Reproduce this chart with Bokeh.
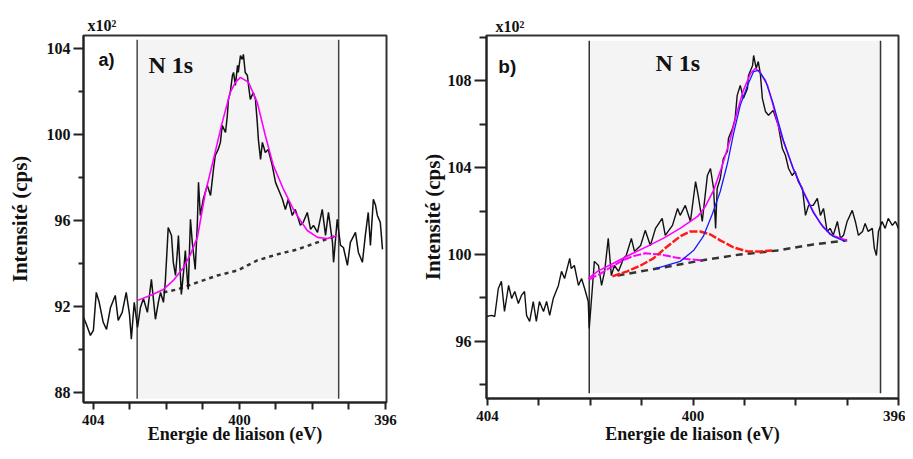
from bokeh.plotting import figure
from bokeh.models import FixedTicker, Range1d, Label
from bokeh.layouts import row
from bokeh.embed import file_html
from bokeh.resources import INLINE

# ---------------- Panel a) data ----------------
a_x = [404.27, 404.19, 404.08, 404.00, 403.92, 403.84, 403.73, 403.64, 403.53, 403.40,
       403.32, 403.21, 403.10, 403.01, 402.96, 402.88, 402.79, 402.71, 402.63, 402.52,
       402.41, 402.30, 402.22, 402.16, 402.08, 402.03, 401.97, 401.95, 401.86, 401.81,
       401.75, 401.70, 401.67, 401.62, 401.59, 401.53, 401.48, 401.42, 401.40, 401.34,
       401.29, 401.21, 401.15, 401.12, 401.07, 400.99, 400.88, 400.79, 400.71, 400.66,
       400.58, 400.52, 400.47, 400.38, 400.33, 400.30, 400.25, 400.19, 400.16, 400.11,
       400.05, 400.03, 399.97, 399.92, 399.89, 399.84, 399.78, 399.75, 399.70, 399.62,
       399.56, 399.51, 399.48, 399.42, 399.37, 399.29, 399.21, 399.10, 399.01, 398.93,
       398.82, 398.74, 398.66, 398.55, 398.47, 398.38, 398.33, 398.25, 398.14, 398.05,
       397.97, 397.86, 397.73, 397.64, 397.56, 397.45, 397.42, 397.32, 397.23, 397.15,
       397.04, 396.96, 396.82, 396.74, 396.63, 396.55, 396.47, 396.41, 396.33, 396.27,
       396.22, 396.14, 396.08]
a_y = [91.49, 91.16, 90.65, 90.88, 92.65, 92.19, 91.26, 90.93, 91.95, 92.51,
       91.35, 91.72, 92.65, 91.63, 90.47, 92.19, 91.02, 91.95, 92.37, 91.72,
       93.26, 91.40, 92.19, 92.65, 92.19, 93.12, 94.98, 95.67, 95.30, 94.05,
       93.44, 94.51, 95.30, 93.58, 92.56, 93.58, 94.60, 93.12, 92.79, 96.05,
       94.98, 93.72, 95.91, 97.77, 96.23, 96.98, 97.63, 97.16, 98.37, 99.02,
       99.30, 99.63, 100.42, 100.09, 100.88, 101.63, 101.95, 102.74, 102.88, 102.28,
       103.21, 102.88, 103.67, 103.49, 103.72, 102.88, 102.74, 102.28, 101.63, 101.95,
       101.63, 100.56, 99.77, 98.84, 99.63, 99.16, 99.30, 98.56, 97.77, 97.44,
       96.98, 96.51, 96.98, 96.23, 96.51, 96.05, 95.77, 95.91, 96.37, 95.58,
       95.77, 95.44, 96.51, 95.30, 96.37, 94.98, 94.05, 96.05, 94.84, 94.74,
       93.91, 94.98, 95.44, 94.51, 94.05, 95.30, 96.37, 94.84, 96.98, 96.70,
       96.23, 95.91, 94.65]

a_fit_x = [402.79, 402.44, 402.08, 401.81, 401.53, 401.34, 401.15, 400.93, 400.71, 400.47,
           400.25, 400.11, 399.97, 399.75, 399.51, 399.29, 399.07, 398.79, 398.52, 398.33,
           398.14, 397.86, 397.59, 397.32]
a_fit_y = [92.28, 92.51, 92.79, 93.21, 93.81, 94.42, 95.21, 97.30, 98.84, 100.56,
           101.95, 102.42, 102.65, 102.42, 101.49, 99.95, 98.56, 97.44, 96.51, 96.00,
           95.53, 95.21, 95.16, 95.30]

a_bg_x = [402.08, 401.70, 401.15, 400.60, 400.05, 399.51, 398.96, 398.41, 397.86, 397.32]
a_bg_y = [92.65, 92.79, 93.12, 93.44, 93.67, 94.14, 94.42, 94.65, 94.98, 95.30]

a_limits = [402.80, 397.28]

# ---------------- Panel b) data ----------------
b_x = [404.02, 403.92, 403.86, 403.79, 403.73, 403.67, 403.59, 403.53, 403.47, 403.40,
       403.34, 403.28, 403.24, 403.18, 403.11, 403.05, 402.99, 402.91, 402.85, 402.79,
       402.72, 402.62, 402.56, 402.50, 402.40, 402.37, 402.31, 402.23, 402.17, 402.11,
       402.04, 402.02, 401.96, 401.92, 401.84, 401.78, 401.72, 401.65, 401.59, 401.53,
       401.45, 401.35, 401.30, 401.20, 401.14, 401.02, 400.93, 400.83, 400.73, 400.60,
       400.54, 400.40, 400.30, 400.25, 400.15, 400.05, 399.95, 399.90, 399.82, 399.72,
       399.66, 399.60, 399.56, 399.53, 399.47, 399.41, 399.33, 399.31, 399.23, 399.18,
       399.14, 399.08, 399.02, 398.94, 398.92, 398.84, 398.82, 398.77, 398.73, 398.69,
       398.65, 398.59, 398.53, 398.44, 398.34, 398.26, 398.20, 398.14, 398.07, 398.01,
       397.95, 397.87, 397.81, 397.75, 397.66, 397.58, 397.52, 397.46, 397.39, 397.33,
       397.27, 397.19, 397.13, 397.07, 397.00, 396.90, 396.84, 396.78, 396.70, 396.65,
       396.59, 396.51, 396.47, 396.43, 396.39, 396.32, 396.26, 396.20, 396.12, 396.06,
       396.00]
b_y = [97.14, 97.19, 97.14, 98.43, 98.76, 97.37, 98.57, 97.97, 98.29, 97.74,
       98.11, 98.29, 97.19, 96.91, 97.83, 96.91, 97.83, 97.37, 97.83, 97.19,
       97.97, 98.57, 99.22, 98.89, 99.82, 99.35, 99.49, 98.57, 98.89, 98.43,
       97.83, 96.59, 98.43, 99.68, 99.49, 98.57, 99.22, 100.74, 99.03, 99.49,
       99.22, 99.82, 99.95, 100.74, 100.14, 100.41, 101.11, 100.41, 101.20, 101.66,
       100.88, 101.34, 102.12, 101.80, 102.26, 101.52, 103.36, 102.72, 101.52, 103.64,
       103.96, 103.04, 101.20, 103.04, 103.50, 104.42, 104.75, 105.35, 105.81, 106.27,
       107.33, 107.79, 107.19, 107.65, 108.25, 108.71, 109.17, 108.57, 108.89, 108.34,
       107.19, 106.59, 106.41, 106.64, 105.94, 104.88, 104.56, 103.96, 103.64, 103.82,
       103.36, 103.04, 101.80, 102.26, 102.26, 102.58, 101.80, 102.12, 101.06, 101.20,
       100.88, 101.52, 100.74, 100.88, 101.52, 102.03, 101.52, 100.88, 101.06, 101.43,
       101.06, 101.20, 100.28, 99.95, 101.06, 101.52, 101.20, 101.66, 101.34, 101.52,
       101.20]

b_fit_x = [402.04, 401.86, 401.55, 401.22, 400.89, 400.58, 400.25, 399.91, 399.76, 399.60,
           399.43, 399.27, 399.14, 399.02, 398.88, 398.79, 398.69, 398.55, 398.44, 398.34,
           398.24, 398.05, 397.85, 397.66, 397.52, 397.33, 397.13, 397.00]
b_fit_y = [98.89, 99.22, 99.59, 100.00, 100.37, 100.74, 101.20, 101.75, 102.21, 102.95,
           104.10, 105.35, 106.59, 107.56, 108.34, 108.57, 108.39, 107.79, 106.87, 105.94,
           105.21, 103.96, 102.90, 101.98, 101.43, 100.92, 100.74, 100.65]

b_main_x = [400.73, 400.58, 400.25, 399.99, 399.80, 399.62, 399.47, 399.33, 399.21, 399.08,
            398.94, 398.82, 398.73, 398.59, 398.44, 398.24, 398.05, 397.85, 397.66, 397.46,
            397.27, 397.04]
b_main_y = [99.35, 99.45, 99.68, 100.18, 100.83, 101.89, 102.90, 104.19, 105.58, 106.87,
            107.79, 108.43, 108.48, 108.02, 106.96, 105.25, 103.96, 102.86, 101.94, 101.24,
            100.83, 100.60]

b_mid_x = [401.57, 401.28, 401.02, 400.77, 400.50, 400.25, 400.05, 399.86, 399.66, 399.47,
           399.21, 398.94, 398.69, 398.46]
b_mid_y = [98.99, 99.22, 99.49, 99.82, 100.37, 100.83, 101.06, 101.06, 100.92, 100.65,
           100.32, 100.14, 100.14, 100.18]

b_low_x = [402.02, 401.80, 401.57, 401.37, 401.18, 400.93, 400.63, 400.34, 400.05, 399.80]
b_low_y = [98.85, 99.12, 99.45, 99.72, 99.91, 100.05, 100.00, 99.86, 99.77, 99.72]

b_bg_x = [401.47, 400.58, 399.72, 399.08, 398.36, 397.66, 397.00]
b_bg_y = [99.03, 99.40, 99.77, 100.00, 100.18, 100.46, 100.65]

b_limits = [402.02, 396.35]

# ticks
x_ticks = [404, 403, 402, 401, 400, 399, 398, 397, 396]
x_tick_labels = {404: "404", 400: "400", 396: "396"}
a_y_major = [88, 92, 96, 100, 104]
a_y_minor = [90, 94, 98, 102]
b_y_major = [96, 100, 104, 108]
b_y_minor = [94, 98, 102, 106, 110]

SERIF = "Liberation Serif"
SANS = "Liberation Sans"


def style(p, y_major, y_minor, offset):
    p.outline_line_color = "#333333"
    p.outline_line_width = 2
    p.background_fill_color = "white"
    p.border_fill_color = "white"
    p.xgrid.visible = False
    p.ygrid.visible = False
    p.title.text = "x10²"
    p.title.align = "left"
    p.title.offset = offset
    p.title.standoff = 3
    p.title.text_font = SERIF
    p.title.text_font_style = "bold"
    p.title.text_font_size = "16px"
    p.title.text_color = "#111111"
    p.xaxis.ticker = FixedTicker(ticks=x_ticks)
    p.xaxis.major_label_overrides = {t: x_tick_labels.get(t, "") for t in x_ticks}
    p.yaxis.ticker = FixedTicker(ticks=y_major, minor_ticks=y_minor)
    for ax in (p.xaxis[0], p.yaxis[0]):
        ax.axis_line_color = "#222222"
        ax.axis_line_width = 2
        ax.major_tick_line_color = "#222222"
        ax.major_tick_line_width = 2
        ax.minor_tick_line_color = "#222222"
        ax.minor_tick_line_width = 2
        ax.major_tick_in = 0
        ax.minor_tick_in = 0
        ax.major_label_text_font = SERIF
        ax.major_label_text_font_style = "bold"
        ax.major_label_text_font_size = "16px"
        ax.major_label_text_color = "#111111"
        ax.axis_label_text_font = SERIF
        ax.axis_label_text_font_style = "bold"
        ax.axis_label_text_color = "#111111"
    p.xaxis.major_label_text_font_size = "15px"
    p.xaxis.axis_label_text_font_size = "18px"
    p.yaxis.axis_label_text_font_size = "21px"
    p.xaxis.major_tick_out = 7
    p.xaxis.minor_tick_out = 0
    p.yaxis.major_tick_out = 10
    p.yaxis.minor_tick_out = 5
    p.xaxis.major_label_standoff = 5
    p.xaxis.axis_label_standoff = 0
    p.yaxis.major_label_standoff = 3
    p.xaxis.axis_label = "Energie de liaison (eV)"
    p.yaxis.axis_label = "Intensité (cps)"


# ---------------- figure a ----------------
pa = figure(frame_width=303, frame_height=367, x_range=Range1d(404.27, 395.97),
            y_range=Range1d(87.53, 104.6), output_backend="svg", toolbar_location=None,
            min_border_left=83, min_border_right=22, min_border_top=28, min_border_bottom=50)
style(pa, a_y_major, a_y_minor, 4)
pa.xaxis.axis_label_standoff = -4
pa.yaxis.axis_label_standoff = 12
pa.quad(left=[a_limits[0]], right=[a_limits[1]], bottom=[87.7], top=[104.4],
        fill_color="#f4f4f4", line_color=None)
pa.segment(x0=a_limits, y0=[87.7, 87.7], x1=a_limits, y1=[104.4, 104.4],
           line_color="#444444", line_width=1.5)
pa.line(a_bg_x, a_bg_y, line_color="#333333", line_width=2.5, line_dash="4 4")
pa.line(a_x, a_y, line_color="#111111", line_width=1.5)
pa.line(a_fit_x, a_fit_y, line_color="#ff00ff", line_width=1.6)
pa.add_layout(Label(x=403.86, y=103.47, text="a)", text_font=SANS, text_font_style="bold",
                    text_font_size="18px", text_baseline="middle", text_color="#111111"))
pa.add_layout(Label(x=402.49, y=103.21, text="N 1s", text_font=SERIF, text_font_style="bold",
                    text_font_size="24px", text_baseline="middle", text_color="#111111"))

# ---------------- figure b ----------------
pb = figure(frame_width=412, frame_height=363, x_range=Range1d(404.02, 396.0),
            y_range=Range1d(93.36, 110.09), output_backend="svg", toolbar_location=None,
            min_border_left=78, min_border_right=7, min_border_top=35, min_border_bottom=47)
style(pb, b_y_major, b_y_minor, 9)
pb.title.standoff = 1
pb.title.vertical_align = "bottom"
pb.yaxis.major_tick_out = 12
pb.yaxis.minor_tick_out = 7
pb.yaxis.axis_label_standoff = 0
pb.quad(left=[b_limits[0]], right=[b_limits[1]], bottom=[93.6], top=[109.85],
        fill_color="#f4f4f4", line_color=None)
pb.segment(x0=b_limits, y0=[93.6, 93.6], x1=b_limits, y1=[109.85, 109.85],
           line_color="#333333", line_width=1.5)
pb.line(b_bg_x, b_bg_y, line_color="#333333", line_width=2.5, line_dash="7 5")
pb.line(b_x, b_y, line_color="#111111", line_width=1.4)
pb.line(b_low_x, b_low_y, line_color="#ff00ff", line_width=2, line_dash="8 2")
pb.line(b_mid_x, b_mid_y, line_color="#ff1a1a", line_width=2.5, line_dash="8 2")
pb.line(b_fit_x, b_fit_y, line_color="#ff00ff", line_width=1.6)
pb.line(b_main_x, b_main_y, line_color="#1a1aff", line_width=1.3)
pb.add_layout(Label(x=403.79, y=108.66, text="b)", text_font=SANS, text_font_style="bold",
                    text_font_size="19px", text_baseline="middle", text_color="#111111"))
pb.add_layout(Label(x=400.73, y=108.80, text="N 1s", text_font=SERIF, text_font_style="bold",
                    text_font_size="24px", text_baseline="middle", text_color="#111111"))

layout = row(pa, pb)
open("out.html", "w").write(file_html(layout, INLINE))
